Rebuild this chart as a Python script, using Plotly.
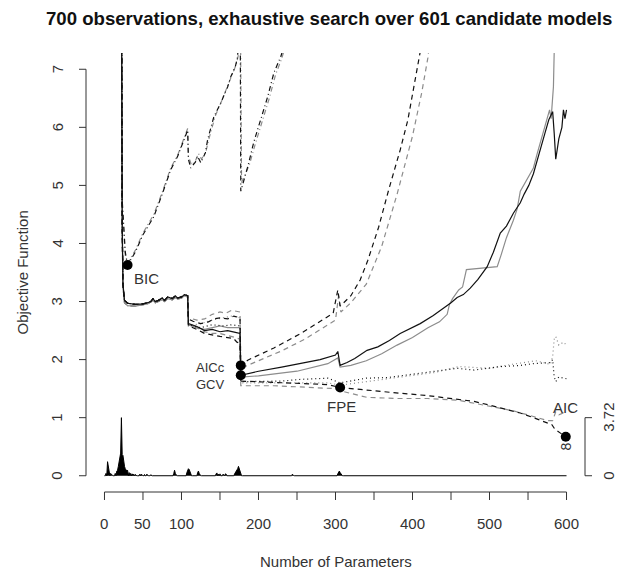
import plotly.graph_objects as go

# ---------------- data ----------------
# shared start of every criterion curve (number of parameters -> objective)
stair_x = [15, 22, 23, 24, 26, 30, 40, 50, 56, 60, 63, 66, 70, 75, 78, 82, 88, 92, 95, 100, 104, 108]
stair_black_y = [12, 9, 4.4, 3.3, 3.02, 2.97, 2.95, 2.96, 2.98, 3.0, 3.05, 3.0, 3.02, 3.06, 3.02, 3.08, 3.05, 3.1, 3.06, 3.08, 3.12, 3.1]
stair_gray_y = [12, 9, 4.2, 3.25, 2.98, 2.93, 2.92, 2.94, 2.96, 2.99, 3.02, 2.98, 3.0, 3.03, 3.0, 3.05, 3.03, 3.07, 3.04, 3.06, 3.1, 3.08]

# GCV (solid)
gcv_black_x = [109, 120, 130, 140, 150, 160, 170, 176, 177, 200, 230, 260, 280, 300, 303, 306, 315, 325, 341, 355, 370, 384,
               395, 410, 427, 440, 450, 458, 466, 475, 485, 497, 505, 514, 522, 531, 540, 545, 551, 557, 562, 566,
               572, 577, 582, 584, 586, 590, 594, 596, 598, 600]
gcv_black_y = [2.62, 2.57, 2.5, 2.52, 2.48, 2.5, 2.47, 2.45, 1.73, 1.8, 1.87, 1.95, 2.0, 2.08, 2.14, 1.9, 1.95, 2.02, 2.16, 2.22, 2.33, 2.45,
               2.52, 2.62, 2.76, 2.88, 2.98, 3.07, 3.12, 3.23, 3.38, 3.6, 3.85, 4.18, 4.3, 4.52, 4.7, 4.85, 5.0, 5.2, 5.42, 5.61,
               5.9, 6.13, 6.27, 5.9, 5.45, 5.8, 6.0, 6.3, 6.15, 6.3]
gcv_gray_x = [109, 120, 130, 140, 150, 160, 176, 177, 200, 250, 290, 303, 306, 320, 340, 360, 380, 400, 420, 435, 445, 448,
              452, 460, 465, 470, 490, 510, 515, 522, 531, 536, 540, 550, 557, 562, 566, 573, 578, 580, 583, 584, 585]
gcv_gray_y = [2.6, 2.55, 2.52, 2.55, 2.58, 2.55, 2.55, 1.7, 1.72, 1.8, 1.93, 2.03, 1.87, 1.9, 1.98, 2.1, 2.25, 2.38, 2.55, 2.65, 2.78, 2.95,
              3.05, 3.2, 3.25, 3.55, 3.58, 3.6, 3.8, 4.1, 4.4, 4.6, 4.9, 5.15, 5.3, 5.55, 5.75, 6.1, 6.3, 6.15, 6.7, 7.3, 9]

# AICc (dashed, rising)
aicc_black_x = [109, 115, 125, 135, 142, 150, 160, 168, 176, 177, 186, 220, 255, 280, 297, 303, 306, 320, 332, 342, 356, 369, 384, 394, 400, 406, 410, 416]
aicc_black_y = [2.7, 2.66, 2.62, 2.65, 2.7, 2.72, 2.7, 2.75, 2.72, 1.9, 1.99, 2.2, 2.45, 2.65, 2.8, 3.2, 2.92, 3.1, 3.37, 3.71, 4.28, 4.92, 5.61, 6.13, 6.56, 7.05, 7.3, 8]
aicc_gray_x = [109, 120, 130, 140, 150, 158, 165, 176, 177, 200, 230, 260, 285, 300, 304, 307, 320, 340, 360, 380, 400, 412, 420, 425]
aicc_gray_y = [2.72, 2.68, 2.7, 2.78, 2.82, 2.8, 2.85, 2.82, 1.85, 1.98, 2.15, 2.35, 2.55, 2.68, 3.1, 2.82, 2.98, 3.3, 3.95, 4.85, 5.85, 6.6, 7.2, 7.8]

# BIC (dot-dash)
bic_black_x = [15, 22, 23, 24, 25, 27, 30, 40, 50, 64, 75, 86, 95, 103, 108, 109, 112, 118, 121, 125, 131, 134, 142, 151, 160, 164, 170, 173, 175, 176, 177, 186, 194, 203, 212, 220, 229, 232, 236]
bic_black_y = [12, 9, 4.75, 4.5, 4.2, 3.85, 3.63, 3.85, 4.15, 4.46, 4.85, 5.27, 5.5, 5.8, 5.95, 5.45, 5.3, 5.4, 5.5, 5.39, 5.56, 5.79, 6.18, 6.42, 6.7, 6.87, 7.05, 7.22, 9, 9, 4.9, 5.32, 5.75, 6.13, 6.53, 6.94, 7.22, 7.35, 8]
bic_gray_x = [15, 22, 23, 25, 27, 30, 40, 50, 64, 75, 86, 95, 103, 108, 109, 113, 118, 122, 126, 132, 136, 144, 152, 160, 165, 171, 174, 175, 176, 178, 188, 196, 205, 214, 222, 230, 235, 240]
bic_gray_y = [12, 9, 4.7, 4.15, 3.8, 3.66, 3.88, 4.18, 4.5, 4.88, 5.3, 5.52, 5.82, 5.98, 5.5, 5.35, 5.42, 5.55, 5.45, 5.6, 5.82, 6.2, 6.45, 6.72, 6.9, 7.08, 7.25, 9, 9, 5.05, 5.35, 5.72, 6.1, 6.5, 6.9, 7.18, 7.4, 8]

# dotted pair
dot_black_x = [109, 125, 140, 155, 165, 176, 177, 200, 230, 255, 290, 306, 340, 367, 400, 433, 458, 480, 514, 540, 557, 579, 582, 584, 586, 590, 596, 600]
dot_black_y = [2.6, 2.55, 2.6, 2.58, 2.6, 2.58, 1.62, 1.62, 1.63, 1.66, 1.68, 1.6, 1.68, 1.69, 1.75, 1.8, 1.85, 1.82, 1.88, 1.9, 1.93, 1.95, 2.0, 1.7, 1.62, 1.7, 1.68, 1.67]
dot_gray_x = [109, 125, 140, 155, 165, 176, 177, 230, 290, 306, 340, 380, 430, 460, 500, 530, 560, 579, 582, 584, 586, 590, 596, 600]
dot_gray_y = [2.58, 2.62, 2.68, 2.72, 2.75, 2.72, 1.6, 1.6, 1.6, 1.56, 1.62, 1.68, 1.78, 1.88, 1.85, 1.92, 1.98, 1.92, 2.05, 2.35, 2.4, 2.25, 2.3, 2.25]

# AIC / FPE (dashed, falling)
aic_black_x = [109, 120, 130, 140, 150, 160, 168, 172, 176, 177, 200, 250, 290, 306, 341, 384, 420, 449, 480, 514, 540, 557, 575, 581, 585, 590, 596, 599, 600]
aic_black_y = [2.58, 2.52, 2.45, 2.42, 2.4, 2.38, 2.36, 2.3, 2.28, 1.63, 1.62, 1.6, 1.57, 1.52, 1.47, 1.42, 1.38, 1.33, 1.28, 1.17, 1.08, 1.0, 0.92, 0.88, 0.8, 0.75, 0.7, 0.67, 0.68]
fpe_gray_x = [109, 120, 130, 140, 150, 160, 170, 176, 177, 220, 260, 300, 310, 341, 380, 420, 460, 500, 530, 557, 575, 582, 586, 590, 596, 600]
fpe_gray_y = [2.6, 2.55, 2.48, 2.45, 2.45, 2.42, 2.38, 2.35, 1.55, 1.55, 1.53, 1.5, 1.45, 1.35, 1.33, 1.33, 1.3, 1.2, 1.12, 1.02, 0.95, 0.95, 1.1, 1.05, 1.08, 1.05]

# minima of each criterion
crit_names = ["BIC", "AICc", "GCV", "FPE", "AIC"]
crit_x = [30, 177, 177, 306, 599]
crit_y = [3.63, 1.9, 1.73, 1.52, 0.67]

# histogram of selected model sizes (right axis scale)
hist_pos = [2, 4, 5, 6, 8, 9, 14, 16, 17, 18, 19, 20, 21, 22, 23, 24, 25, 26, 27, 28, 29, 30, 32, 34, 36, 38, 40,
            46, 48, 52, 55, 60, 90, 91, 92, 107, 108, 109, 110, 111, 112, 121, 122, 123, 145, 146, 148, 150,
            154, 157, 158, 169, 170, 171, 172, 173, 174, 175, 176, 244, 303, 304, 305, 306, 307]
hist_h = [0.15, 0.9, 0.6, 0.2, 0.15, 0.1, 0.15, 0.3, 0.35, 0.6, 1.0, 1.3, 1.45, 3.72, 1.35, 1.3, 0.8, 0.6, 0.45, 0.35,
          0.3, 0.35, 0.2, 0.15, 0.12, 0.1, 0.08, 0.1, 0.1, 0.08, 0.1, 0.06, 0.15, 0.35, 0.15, 0.2, 0.35, 0.45,
          0.4, 0.25, 0.12, 0.2, 0.3, 0.15, 0.12, 0.18, 0.1, 0.12, 0.1, 0.12, 0.1, 0.12, 0.2, 0.25, 0.35, 0.45,
          0.6, 0.45, 0.2, 0.1, 0.12, 0.25, 0.3, 0.2, 0.1]
hist_max = 3.72

x_ticks = [0, 50, 100, 150, 200, 250, 300, 350, 400, 450, 500, 550, 600]
x_labels = [0, 50, 100, 200, 300, 400, 500, 600]
y_ticks = [0, 1, 2, 3, 4, 5, 6, 7]

# ---------------- figure ----------------
FONT = "Liberation Sans"
TXT = "#333333"
BLACK = "#111111"
GRAY = "#8c8c8c"
DASH = "5px,4px"
DOT = "1px,3px"
DOTDASH = "1px,3px,5px,3px"

fig = go.Figure()

# histogram on secondary axis
hist_x = list(range(0, 601))
hist_y = [0.0] * len(hist_x)
for p, h in zip(hist_pos, hist_h):
    hist_y[p] = h
fig.add_trace(go.Scatter(x=hist_x, y=hist_y, yaxis="y2", mode="lines", fill="tozeroy",
                         fillcolor="black", line=dict(color="black", width=1), hoverinfo="skip"))

series = [
    (stair_x + gcv_gray_x, stair_gray_y + gcv_gray_y, GRAY, "solid"),
    (stair_x + aicc_gray_x, stair_gray_y + aicc_gray_y, GRAY, DASH),
    (bic_gray_x, bic_gray_y, GRAY, DOTDASH),
    (stair_x + dot_gray_x, stair_gray_y + dot_gray_y, GRAY, DOT),
    (stair_x + fpe_gray_x, stair_gray_y + fpe_gray_y, GRAY, DASH),
    (stair_x + gcv_black_x, stair_black_y + gcv_black_y, BLACK, "solid"),
    (stair_x + aicc_black_x, stair_black_y + aicc_black_y, BLACK, DASH),
    (bic_black_x, bic_black_y, BLACK, DOTDASH),
    (stair_x + dot_black_x, stair_black_y + dot_black_y, BLACK, DOT),
    (stair_x + aic_black_x, stair_black_y + aic_black_y, BLACK, DASH),
]
for sx, sy, col, dash in series:
    fig.add_trace(go.Scatter(x=sx, y=sy, mode="lines", line=dict(color=col, width=1.2, dash=dash),
                             hoverinfo="skip"))

fig.add_trace(go.Scatter(x=crit_x, y=crit_y, mode="markers",
                         marker=dict(color="black", size=10), hoverinfo="skip", cliponaxis=False))

# label placement (pixel offsets from each minimum)
label_style = {
    "BIC": dict(xanchor="left", xshift=4, yshift=-14, size=15),
    "AICc": dict(xanchor="right", xshift=-14, yshift=-2, size=13),
    "GCV": dict(xanchor="right", xshift=-14, yshift=-9, size=13),
    "FPE": dict(xanchor="center", xshift=1, yshift=-19, size=15),
    "AIC": dict(xanchor="center", xshift=0, yshift=29, size=15),
}
annotations = []
for n, cx, cy in zip(crit_names, crit_x, crit_y):
    st = label_style[n]
    annotations.append(dict(x=cx, y=cy, xref="x", yref="y", text=n, showarrow=False, yanchor="middle",
                            xanchor=st["xanchor"], xshift=st["xshift"], yshift=st["yshift"],
                            font=dict(family=FONT, size=st["size"], color=TXT)))
annotations.append(dict(x=crit_x[-1], y=crit_y[-1], xref="x", yref="y", text="8", showarrow=False,
                        textangle=-90, xanchor="center", yanchor="middle", yshift=-10,
                        font=dict(family=FONT, size=14, color=TXT)))

shapes = []
AX = dict(color="#333333", width=1)
# left axis
shapes.append(dict(type="line", xref="paper", yref="y", x0=0, x1=0, y0=y_ticks[0], y1=y_ticks[-1], line=AX))
for v in y_ticks:
    shapes.append(dict(type="line", xref="paper", xsizemode="pixel", xanchor=0, x0=-7, x1=0,
                       yref="y", y0=v, y1=v, line=AX))
    annotations.append(dict(x=0, xref="paper", xshift=-29, y=v, yref="y", text=str(v), showarrow=False,
                            textangle=-90, xanchor="center", yanchor="middle",
                            font=dict(family=FONT, size=15, color=TXT)))
# bottom axis
shapes.append(dict(type="line", xref="x", yref="paper", x0=x_ticks[0], x1=x_ticks[-1], y0=0, y1=0, line=AX))
for v in x_ticks:
    shapes.append(dict(type="line", xref="x", x0=v, x1=v, yref="paper", ysizemode="pixel", yanchor=0,
                       y0=-8, y1=0, line=AX))
for v in x_labels:
    annotations.append(dict(x=v, xref="x", y=0, yref="paper", yshift=-31, text=str(v), showarrow=False,
                            xanchor="center", yanchor="middle", font=dict(family=FONT, size=15, color=TXT)))
# right axis (histogram scale)
shapes.append(dict(type="line", xref="paper", yref="y2", x0=1, x1=1, y0=0, y1=hist_max, line=AX))
for v, t in [(0, "0"), (hist_max, "3.72")]:
    shapes.append(dict(type="line", xref="paper", xsizemode="pixel", xanchor=1, x0=0, x1=7,
                       yref="y2", y0=v, y1=v, line=AX))
    annotations.append(dict(x=1, xref="paper", xshift=24, y=v, yref="y2", text=t, showarrow=False,
                            textangle=-90, xanchor="center", yanchor="middle",
                            font=dict(family=FONT, size=15, color=TXT)))

# titles
annotations.append(dict(x=0.5, xref="paper", y=0, yref="paper", yshift=-69, text="Number of Parameters",
                        showarrow=False, xanchor="center", yanchor="middle",
                        font=dict(family=FONT, size=15, color=TXT)))
annotations.append(dict(x=0, xref="paper", xshift=-64, y=0.5, yref="paper", text="Objective Function",
                        showarrow=False, textangle=-90, xanchor="center", yanchor="middle",
                        font=dict(family=FONT, size=15, color=TXT)))
annotations.append(dict(x=0.5, xref="paper", xshift=-7, y=1, yref="paper", yshift=35,
                        text="<b>700 observations, exhaustive search over 601 candidate models</b>",
                        showarrow=False, xanchor="center", yanchor="middle",
                        font=dict(family=FONT, size=18.6, color="#111111")))

y_lo, y_hi = -0.28, 7.28
fig.update_layout(
    width=618, height=573,
    margin=dict(l=86, r=33, t=53, b=81),
    paper_bgcolor="white", plot_bgcolor="white",
    showlegend=False,
    xaxis=dict(range=[-24, 624], visible=False, showgrid=False, zeroline=False),
    yaxis=dict(range=[y_lo, y_hi], visible=False, showgrid=False, zeroline=False),
    yaxis2=dict(range=[y_lo * hist_max, y_hi * hist_max], overlaying="y", visible=False,
                showgrid=False, zeroline=False),
    shapes=shapes,
    annotations=annotations,
)

# remove the default page margin so the figure sits at the window's top-left corner
fig.write_html("out.html",
               config={"displayModeBar": False, "staticPlot": True},
               post_script="document.body.style.margin='0px';"
                           "document.documentElement.style.overflow='hidden';")
